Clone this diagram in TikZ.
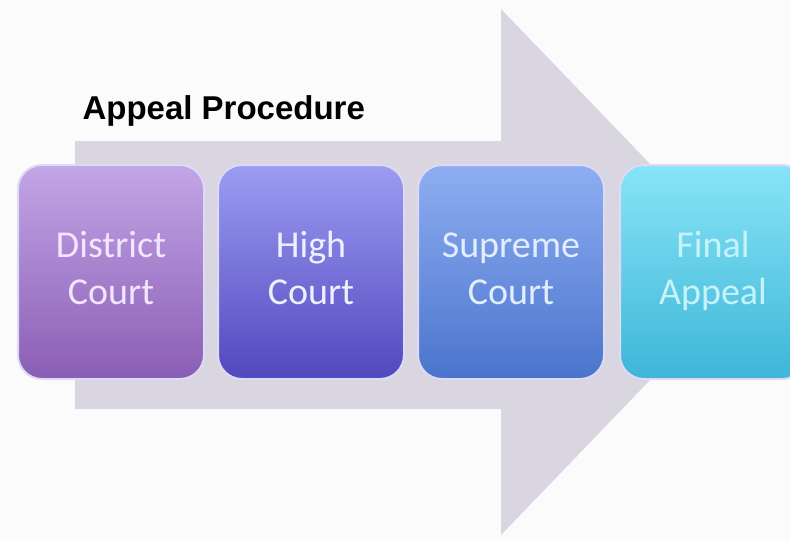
\documentclass[tikz,border=0pt]{standalone}
\usepackage{fontspec}
\setmainfont{Carlito}
\newfontfamily\titlefont{Liberation Sans}
\usepackage{tikz}
\usetikzlibrary{positioning}
\definecolor{PageBG}{HTML}{FBFBFC}
\definecolor{ArrowGrey}{HTML}{D9D5E1}
\definecolor{RimCol}{HTML}{DCDAF4}
\definecolor{DistTop}{HTML}{C3A6E6}
\definecolor{DistBot}{HTML}{8A5DB5}
\definecolor{DistTxt}{HTML}{F2E6FF}
\definecolor{HighTop}{HTML}{9C9CF2}
\definecolor{HighBot}{HTML}{5048BE}
\definecolor{HighTxt}{HTML}{EEF0FF}
\definecolor{SupTop}{HTML}{8FAEF2}
\definecolor{SupBot}{HTML}{4A74CC}
\definecolor{SupTxt}{HTML}{E2EEFF}
\definecolor{FinTop}{HTML}{88E4F7}
\definecolor{FinBot}{HTML}{3EB6D8}
\definecolor{FinTxt}{HTML}{C6F3FA}

\begin{document}
\begin{tikzpicture}[x=1pt,y=-1pt,
  court/.style={rounded corners=24pt, minimum width=186pt, minimum height=214pt,
    draw=RimCol, line width=2pt, align=center, inner sep=0pt,
    font=\fontsize{38}{47}\selectfont}]
  \useasboundingbox (0,0) rectangle (790,541);
  \fill[PageBG] (0,0) rectangle (790,541);
  % big arrow behind the steps
  \fill[ArrowGrey] (75,141) -- (501,141) -- (501,9) -- (754,272)
    -- (501,535) -- (501,409) -- (75,409) -- cycle;
  \node[font=\titlefont\bfseries\fontsize{33}{40}\selectfont, anchor=base west]
    (title) at (79,119) {Appeal Procedure};
  \node[court, top color=DistTop, bottom color=DistBot, text=DistTxt]
    (district) at (111,272) {District\strut\\Court\strut};
  \node[court, top color=HighTop, bottom color=HighBot, text=HighTxt,
    right=12pt of district] (high) {High\strut\\Court\strut};
  \node[court, top color=SupTop, bottom color=SupBot, text=SupTxt,
    right=12pt of high] (supreme) {Supreme\strut\\Court\strut};
  \node[court, top color=FinTop, bottom color=FinBot, text=FinTxt,
    right=14pt of supreme] (final) {Final\strut\\Appeal\strut};
\end{tikzpicture}
\end{document}
